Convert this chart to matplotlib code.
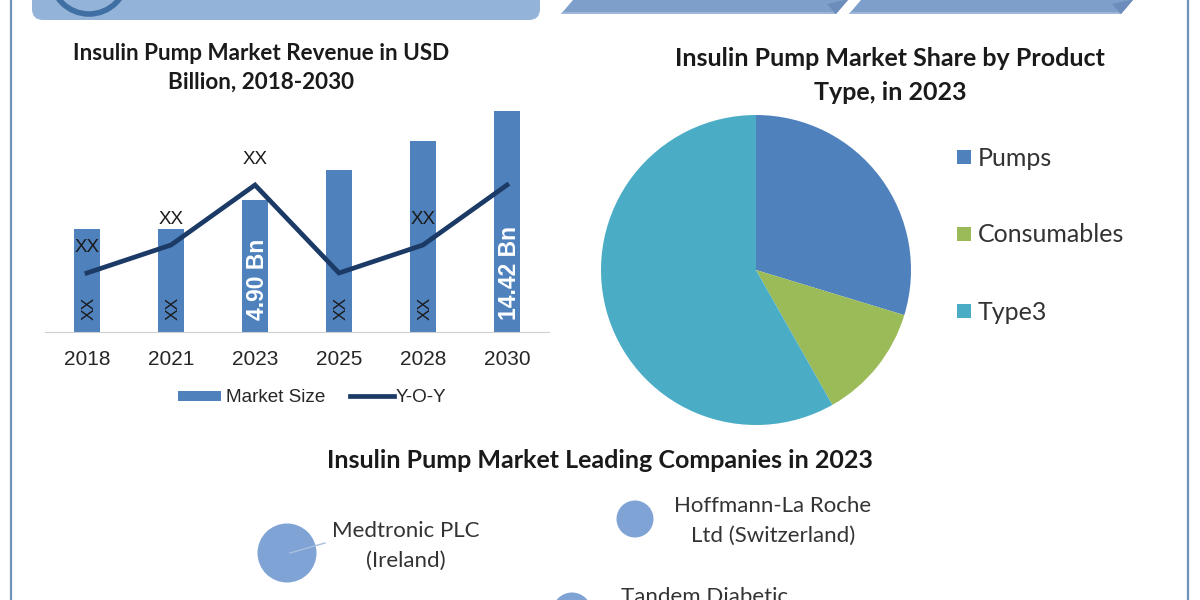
import matplotlib
matplotlib.use("Agg")
import matplotlib.pyplot as plt
from matplotlib.patches import Circle, Polygon, FancyBboxPatch, Rectangle
from matplotlib.lines import Line2D

# bar chart data, in USD Bn (only 2023 and 2030 are printed, the rest)
years = ["2018", "2021", "2023", "2025", "2028", "2030"]
market_size = [1.8, 1.8, 4.9, 8.1, 11.2, 14.42]
yoy = [59, 87, 147, 59, 87, 147]
bar_labels = ["XX", "XX", "4.90 Bn", "XX", "XX", "14.42 Bn"]
yoy_labels = ["XX", "XX", "XX", "", "XX", ""]

# pie data
share_names = ["Pumps", "Consumables", "Type3"]
share_values = [29.7, 12.1, 58.2]
share_colors = ["#4F81BD", "#9BBB59", "#4BACC6"]

# bubbles
companies = ["Medtronic PLC\n(Ireland)", "Hoffmann-La Roche\nLtd (Switzerland)", "Tandem Diabetic"]

BODY = "Lato"
W, H = 1200, 600

fig = plt.figure(figsize=(W / 100, H / 100), dpi=100, facecolor="white")

# full figure layer in pixels for the decorations and free text
bg = fig.add_axes([0, 0, 1, 1])
bg.set_xlim(0, W)
bg.set_ylim(H, 0)
bg.axis("off")

def axes_px(x0, y0, x1, y1):
    return fig.add_axes([x0 / W, 1 - y1 / H, (x1 - x0) / W, (y1 - y0) / H])

# frame
bg.add_line(Line2D([11, 11], [0, 600], color="#6F93B8", lw=1.6))
bg.add_line(Line2D([1188, 1188], [0, 600], color="#6F93B8", lw=1.6))

# top banner pieces, cut by the image edge
bg.add_patch(FancyBboxPatch((32, -40), 508, 60, boxstyle="round,pad=0,rounding_size=11",
                            fc="#94B3D9", ec="none"))
bg.add_patch(Circle((89, -24), 38, fc="none", ec="#3F6FA3", lw=4))
for x0, x1 in [(561, 836), (849, 1121)]:
    bg.add_patch(Polygon([(x0, 14), (x0 + 12, 0), (x1 + 12, 0), (x1, 14)], fc="#7F9FCB", ec="none"))
    bg.add_patch(Polygon([(x0, 14), (x0 + 3, 12), (x1 - 3, 12), (x1, 14)], fc="#9DB6D9", ec="none"))
    bg.add_patch(Polygon([(x1, 14), (x1 - 9, 4), (x1 + 9, 0), (x1 + 12, 0)], fc="#6C8CBB", ec="none"))

# titles
bg.text(261, 53, "Insulin Pump Market Revenue in USD", family=BODY, weight="bold", fontsize=16.2,
        color="#1A1A1A", ha="center", va="center")
bg.text(261, 82, "Billion, 2018-2030", family=BODY, weight="bold", fontsize=16.2,
        color="#1A1A1A", ha="center", va="center")
bg.text(890, 59, "Insulin Pump Market Share by Product", family=BODY, weight="bold", fontsize=18,
        color="#1A1A1A", ha="center", va="center")
bg.text(890, 92, "Type, in 2023", family=BODY, weight="bold", fontsize=18,
        color="#1A1A1A", ha="center", va="center")
bg.text(600, 461, "Insulin Pump Market Leading Companies in 2023", family=BODY, weight="bold", fontsize=18,
        color="#1A1A1A", ha="center", va="center")

# bar + line chart
ax = axes_px(45, 100, 549, 332)
pos = list(range(len(years)))
base = -9.2
ax.bar(pos, [v - base for v in market_size], bottom=base, width=0.31, color="#4F81BD", zorder=2)
ax.set_xlim(-0.5, 5.5)
ax.set_ylim(base, 15.6)
ax.set_xticks(pos)
ax.set_xticklabels(years, family="Liberation Sans", fontsize=15, color="#262626")
ax.set_yticks([])
ax.tick_params(axis="x", length=0, pad=13)
for s in ["top", "left", "right"]:
    ax.spines[s].set_visible(False)
ax.spines["bottom"].set_color("#D0D0D0")
ax.patch.set_alpha(0)

for i, label in enumerate(bar_labels):
    if "Bn" in label:
        ax.text(i + 0.03, base + 1.3, label, rotation=90, family="Liberation Sans", weight="bold", fontsize=16.5,
                color="white", ha="center", va="bottom", zorder=5)
    else:
        ax.text(i + 0.03, base + 1.3, label, rotation=90, family="Liberation Sans", fontsize=12.5,
                color="#1A1A1A", ha="center", va="bottom", zorder=5)

line_ax = ax.twinx()
line_ax.set_ylim(0, 232)
line_ax.axis("off")
line_ax.plot(pos, yoy, color="#1B3A66", lw=3.4, solid_joinstyle="miter", zorder=4)
offsets = [26, 26, 26, 0, 26, 0]
for i, label in enumerate(yoy_labels):
    if label:
        line_ax.text(i, yoy[i] + offsets[i] - 1, label, family="Liberation Sans", fontsize=13.5,
                     color="#1A1A1A", ha="center", va="center", zorder=5)

# bar legend
bg.add_patch(Rectangle((178, 391), 43, 10, fc="#4F81BD", ec="none"))
bg.text(226, 397, "Market Size", family="Liberation Sans", fontsize=13.6, color="#262626", va="center")
bg.add_line(Line2D([350, 394], [396, 396], color="#1B3A66", lw=3.4))
bg.text(396, 397, "Y-O-Y", family="Liberation Sans", fontsize=13.6, color="#262626", va="center")

# pie
pie_ax = axes_px(596, 110, 916, 430)
pie_ax.pie(share_values, colors=share_colors, startangle=90, counterclock=False, radius=1.0,
           wedgeprops={"edgecolor": "none"})
pie_ax.set_xlim(-160 / 155, 160 / 155)
pie_ax.set_ylim(-160 / 155, 160 / 155)

legend_y = [157, 234, 311]
for name, color, y in zip(share_names, share_colors, legend_y):
    bg.add_patch(Rectangle((957, y - 7), 14, 14, fc=color, ec="none"))
    bg.text(978, y + 1, name, family=BODY, fontsize=18, color="#333333", va="center")

# company bubbles
bubble_color = "#7FA3D4"
bg.add_patch(Circle((287, 553), 29.5, fc=bubble_color, ec="none"))
bg.add_patch(Circle((635, 519), 18.5, fc=bubble_color, ec="none"))
bg.add_patch(Circle((572, 612), 19.5, fc=bubble_color, ec="none"))
bg.add_line(Line2D([290, 325], [553, 543], color="#A9BFDD", lw=1))

bg.text(406, 546, companies[0], family=BODY, fontsize=16, color="#333333", ha="center", va="center", linespacing=1.6)
bg.text(773, 521, companies[1], family=BODY, fontsize=16, color="#333333", ha="center", va="center", linespacing=1.6)
# the lower lines of this label run past the bottom edge in the reference
bg.text(705, 597, companies[2], family=BODY, fontsize=16, color="#333333", ha="center", va="center")

fig.savefig("out.png", dpi=100)
